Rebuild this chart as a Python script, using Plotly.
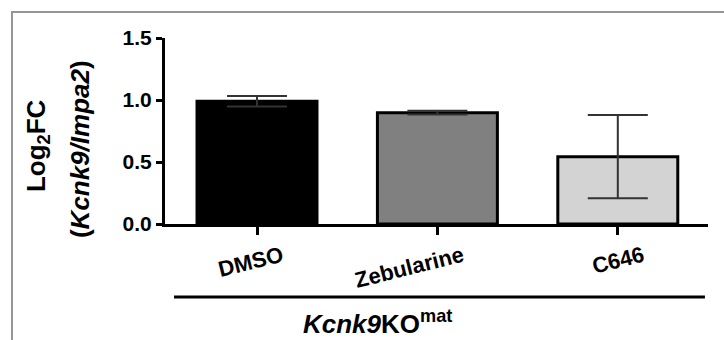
import plotly.graph_objects as go

categories = ["DMSO", "Zebularine", "C646"]
means = [0.99, 0.898, 0.543]
errors = [0.043, 0.015, 0.336]
bar_colors = ["#000000", "#808080", "#d3d3d3"]
y_ticks = [0.0, 0.5, 1.0, 1.5]
y_tick_labels = ["<b>0.0</b>", "<b>0.5</b>", "<b>1.0</b>", "<b>1.5</b>"]
group_label = "<b><i>Kcnk9</i>KO<sup>mat</sup></b>"
y_title_1 = "<b>Log<sub>2</sub>FC</b>"
y_title_2 = "<b>(<i>Kcnk9/Impa2</i>)</b>"

FONT = "Liberation Sans, Arial, sans-serif"

fig = go.Figure()
fig.add_trace(go.Bar(
    x=list(range(len(categories))),
    y=means,
    width=0.665,
    marker=dict(color=bar_colors, line=dict(color="#000000", width=3)),
    error_y=dict(type="data", array=errors, visible=True,
                 color="#333333", thickness=2, width=30),
))

fig.update_layout(
    width=724, height=340,
    margin=dict(l=165, r=16, t=38, b=116),
    paper_bgcolor="white", plot_bgcolor="white",
    showlegend=False,
    font=dict(family=FONT, color="black"),
    xaxis=dict(
        range=[-0.51, 2.5],
        tickmode="array",
        tickvals=list(range(len(categories))),
        ticktext=["<b>%s</b>" % c for c in categories],
        tickangle=-14,
        ticklabelshift=25,
        tickfont=dict(size=22, family=FONT, color="black"),
        ticks="outside", ticklen=8, tickwidth=3, tickcolor="black",
        showline=True, linecolor="black", linewidth=3,
        showgrid=False, zeroline=False, fixedrange=True,
    ),
    yaxis=dict(
        range=[0, 1.5],
        tickmode="array",
        tickvals=y_ticks,
        ticktext=y_tick_labels,
        tickfont=dict(size=21, family=FONT, color="black"),
        ticks="outside", ticklen=6, tickwidth=3, tickcolor="black",
        showline=True, linecolor="black", linewidth=3,
        showgrid=False, zeroline=False, fixedrange=True,
    ),
)

# outer gray frame
fig.add_shape(type="rect", xref="paper", yref="paper",
              x0=-0.2818, x1=1.2, y0=-0.8, y1=1.1398,
              line=dict(color="#969696", width=2), fillcolor="rgba(0,0,0,0)",
              layer="below")

# group bracket line
fig.add_shape(type="line", xref="x", yref="paper",
              x0=-0.46, x1=2.483, y0=-0.392, y1=-0.392,
              line=dict(color="black", width=3))

fig.add_annotation(text=group_label, xref="paper", yref="paper",
                   x=(377 - 165) / 543, y=-0.527, showarrow=False,
                   xanchor="center", yanchor="middle",
                   font=dict(size=26, family=FONT, color="black"))

fig.add_annotation(text=y_title_1, xref="paper", yref="paper",
                   x=-0.2357, y=0.419, textangle=-90, showarrow=False,
                   xanchor="center", yanchor="middle",
                   font=dict(size=26, family=FONT, color="black"))
fig.add_annotation(text=y_title_2, xref="paper", yref="paper",
                   x=-0.1565, y=0.403, textangle=-90, showarrow=False,
                   xanchor="center", yanchor="middle",
                   font=dict(size=26, family=FONT, color="black"))

fig.write_html(
    "out.html",
    config={"displayModeBar": False},
    post_script="document.body.style.margin='0';document.body.style.overflow='hidden';",
)
